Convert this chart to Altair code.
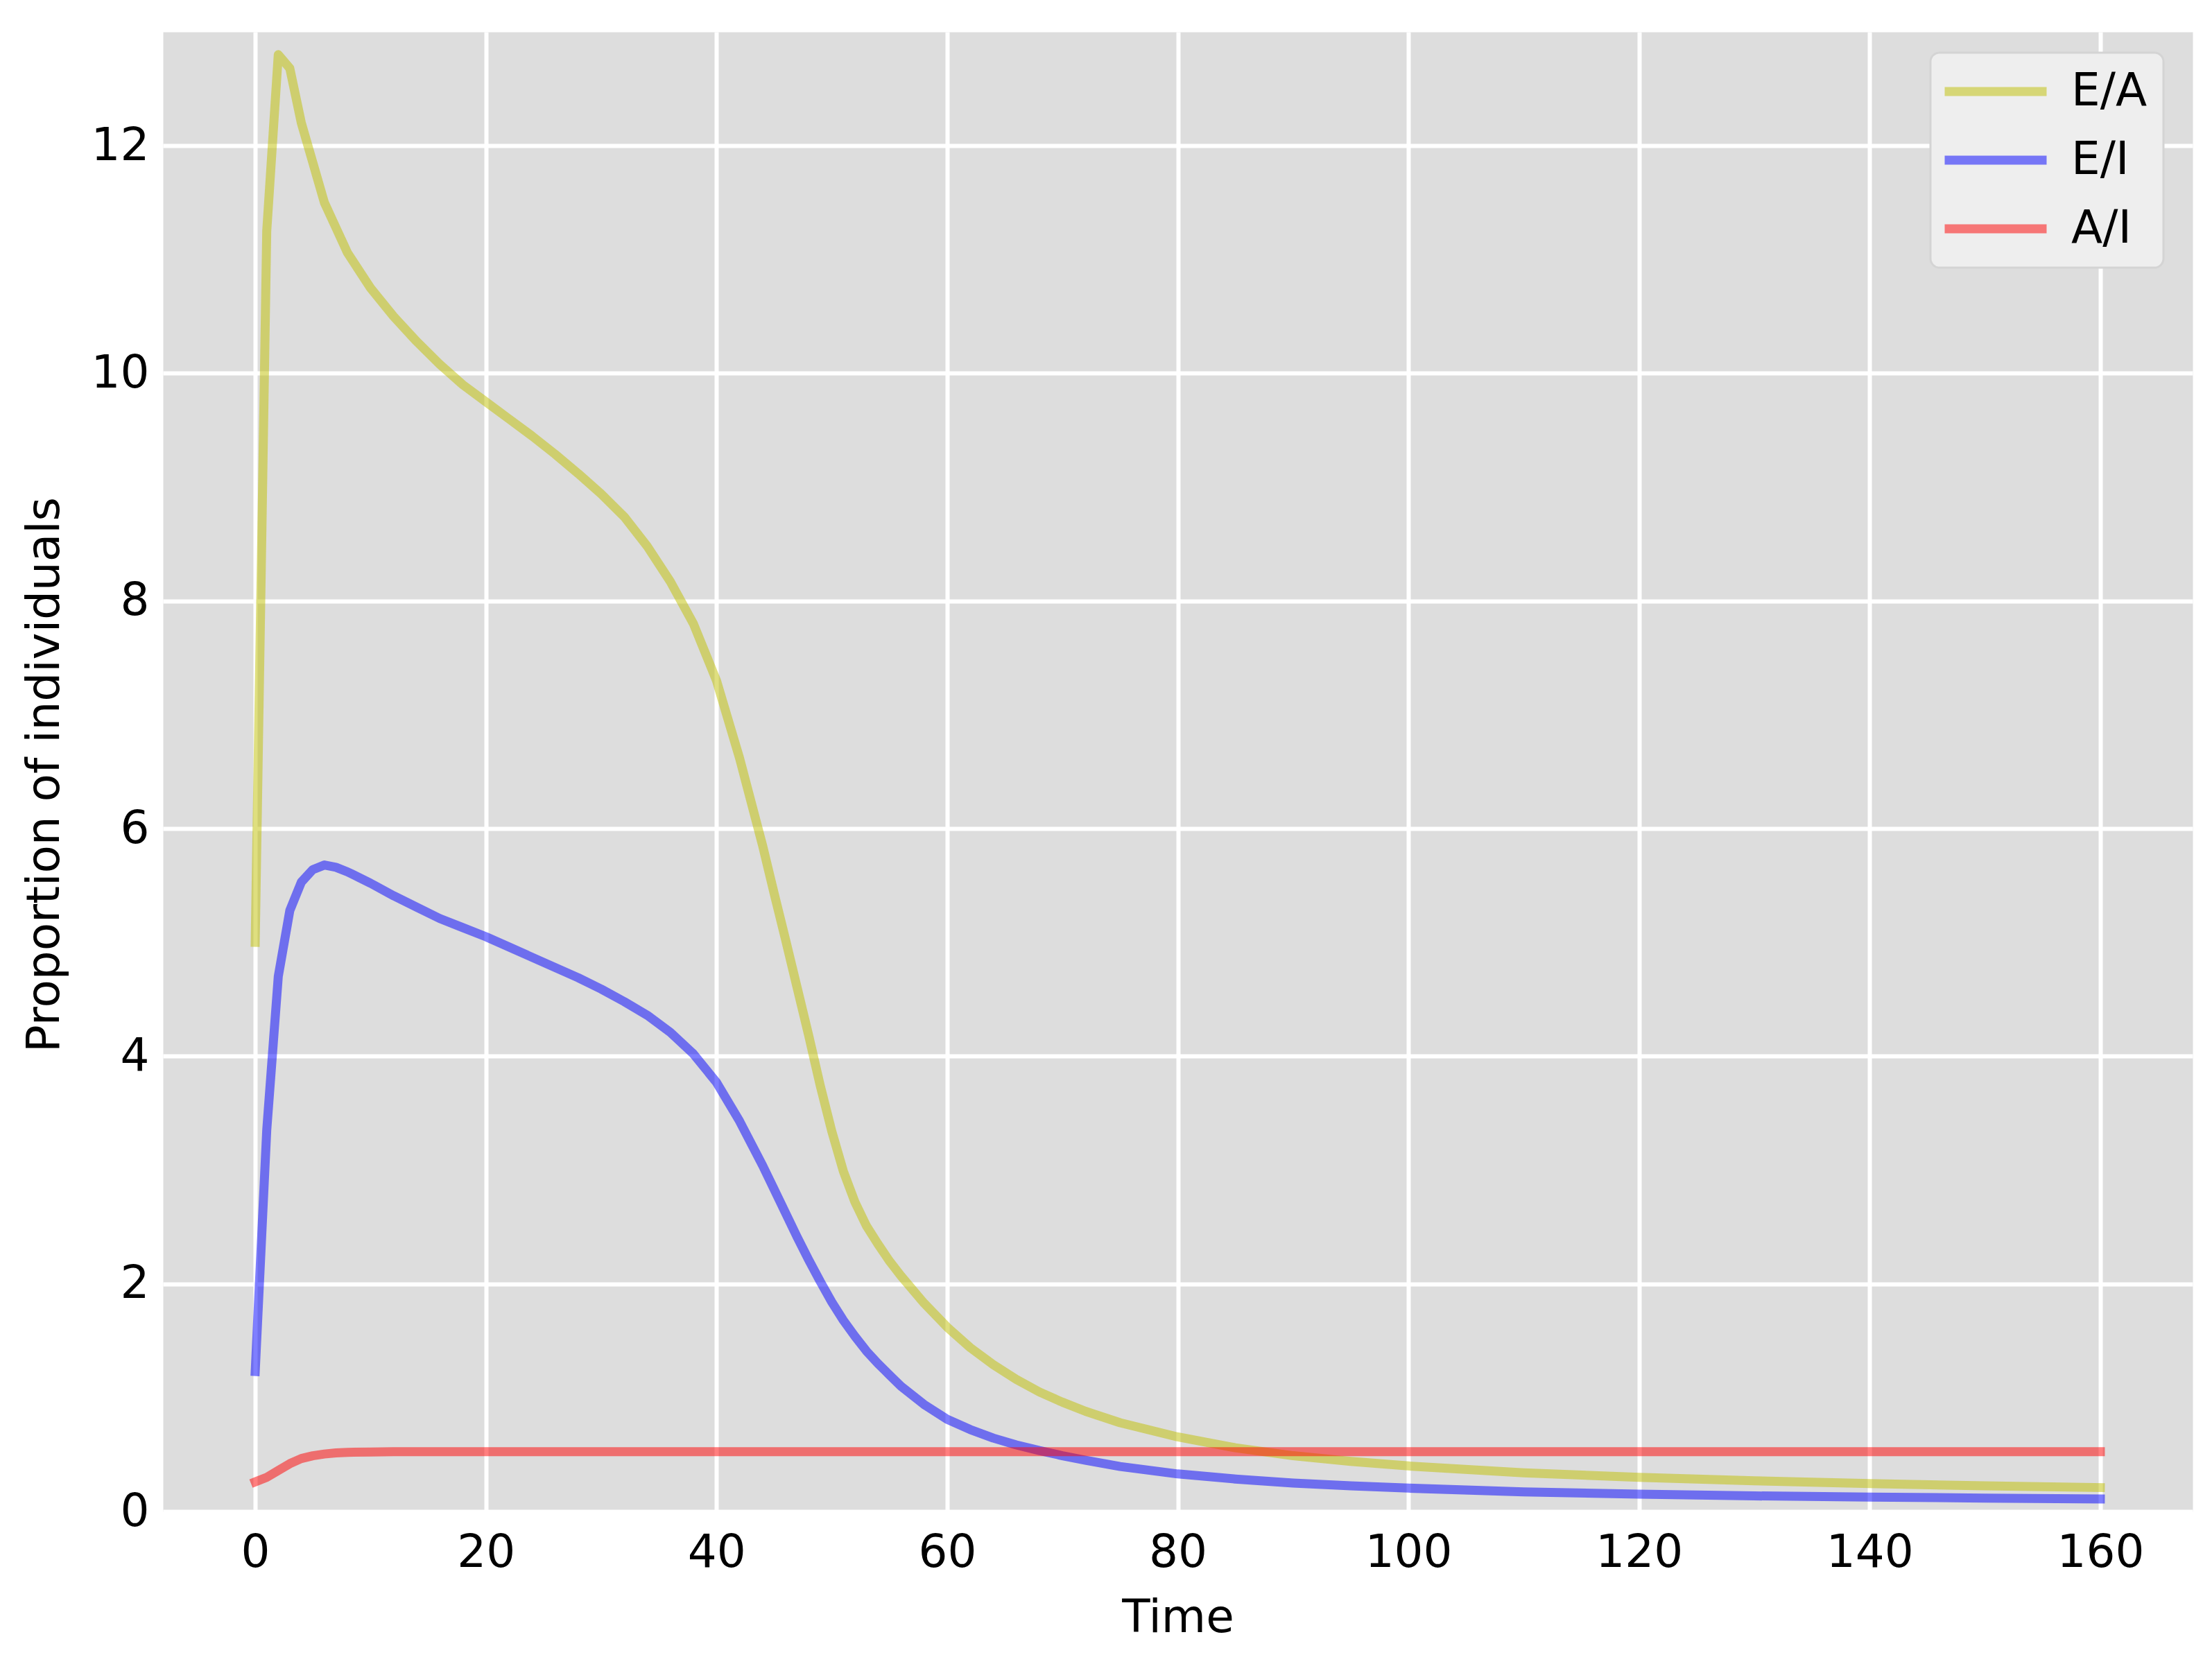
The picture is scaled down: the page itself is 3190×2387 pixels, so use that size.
import altair as alt
import pandas as pd

# ---- data ----
time = [0, 1, 2, 3, 4, 5, 6, 7, 8,
        10, 12, 14, 16, 18, 20, 22, 24, 26, 28, 30, 32, 34, 36, 38, 40,
        42, 44, 45, 46, 47, 48, 49, 50, 51, 52, 53, 54, 55, 56, 58, 60,
        62, 64, 66, 68, 70, 72,
        75, 80, 85, 90, 95, 100,
        110, 120, 130, 140, 150, 160]

ea = [5.0, 11.25, 12.8, 12.68, 12.2, 11.85, 11.5, 11.28, 11.06,
      10.75, 10.5, 10.28, 10.08, 9.9, 9.75, 9.6, 9.45, 9.29, 9.12, 8.94, 8.74, 8.48, 8.17, 7.8, 7.3,
      6.62, 5.85, 5.43, 5.02, 4.6, 4.18, 3.74, 3.34, 2.99, 2.72, 2.51, 2.35, 2.2, 2.07, 1.83, 1.62,
      1.44, 1.29, 1.16, 1.05, 0.96, 0.88,
      0.78, 0.655, 0.56, 0.49, 0.44, 0.40,
      0.34, 0.30, 0.27, 0.245, 0.225, 0.21]

ei = [1.23, 3.35, 4.7, 5.28, 5.53, 5.64, 5.68, 5.66, 5.62,
      5.52, 5.41, 5.31, 5.21, 5.13, 5.05, 4.96, 4.87, 4.78, 4.69, 4.59, 4.48, 4.36, 4.21, 4.02, 3.77,
      3.43, 3.04, 2.83, 2.62, 2.41, 2.21, 2.02, 1.84, 1.68, 1.54, 1.41, 1.3, 1.2, 1.1, 0.94, 0.81,
      0.72, 0.645, 0.585, 0.535, 0.49, 0.45,
      0.395, 0.33, 0.285, 0.25, 0.225, 0.205,
      0.172, 0.152, 0.137, 0.127, 0.118, 0.11]

ai = [0.26, 0.30, 0.36, 0.42, 0.465, 0.49, 0.505, 0.515, 0.52,
      0.523, 0.525, 0.525, 0.525, 0.525, 0.525, 0.525, 0.525, 0.525, 0.525, 0.525, 0.525, 0.525, 0.525, 0.525, 0.525,
      0.525, 0.525, 0.525, 0.525, 0.525, 0.525, 0.525, 0.525, 0.525, 0.525, 0.525, 0.525, 0.525, 0.525, 0.525, 0.525,
      0.525, 0.525, 0.525, 0.525, 0.525, 0.525,
      0.525, 0.525, 0.525, 0.525, 0.525, 0.525,
      0.525, 0.525, 0.525, 0.525, 0.525, 0.525]

series_names = ["E/A", "E/I", "A/I"]
series_colors = ["#BFBF00", "#0000FF", "#FF0000"]
x_ticks = [0, 20, 40, 60, 80, 100, 120, 140, 160]
y_ticks = [0, 2, 4, 6, 8, 10, 12]

rows = []
for name, vals in zip(series_names, [ea, ei, ai]):
    for t, v in zip(time, vals):
        rows.append({"Time": t, "value": v, "series": name})
df = pd.DataFrame(rows)

FONT = "DejaVu Sans"
FS = 66

chart = alt.Chart(df).mark_line(
    strokeWidth=13, opacity=0.5, strokeCap="square", strokeJoin="round", clip=True
).encode(
    x=alt.X("Time:Q",
            scale=alt.Scale(domain=[-8, 168], nice=False, zero=False),
            axis=alt.Axis(values=x_ticks, title="Time", grid=True, gridColor="white",
                          gridWidth=6, domain=False, ticks=False, tickSize=0,
                          labelFont=FONT, labelFontSize=FS, labelColor="black",
                          labelPadding=27, labelFlush=False, labelOverlap=False,
                          titleFont=FONT, titleFontSize=FS, titleFontWeight="normal",
                          titleColor="black", titleY=173, titleBaseline="alphabetic")),
    y=alt.Y("value:Q",
            scale=alt.Scale(domain=[0, 13], nice=False),
            axis=alt.Axis(values=y_ticks, title="Proportion of individuals", grid=True,
                          gridColor="white", gridWidth=6, domain=False, ticks=False,
                          tickSize=0, labelFont=FONT, labelFontSize=FS, labelColor="black",
                          labelPadding=20, labelFlush=False, labelOverlap=False,
                          titleFont=FONT, titleFontSize=FS, titleFontWeight="normal",
                          titleColor="black", titleX=-151, titleY=1071,
                          titleBaseline="alphabetic", titleAngle=270)),
    color=alt.Color("series:N",
                    scale=alt.Scale(domain=series_names, range=series_colors),
                    sort=series_names,
                    legend=alt.Legend(title=None, orient="none", legendX=2549, legendY=30,
                                      direction="vertical", fillColor="#EEEEEE",
                                      strokeColor="#D4D4D4", cornerRadius=13, padding=23,
                                      symbolType="M-3,0L3,0", symbolSize=2401,
                                      symbolStrokeWidth=13, symbolOpacity=0.5,
                                      symbolOffset=38, labelFont=FONT, labelFontSize=FS,
                                      labelColor="black", labelOffset=76, rowPadding=33,
                                      labelLimit=0)),
).properties(
    width=2927, height=2134,
    padding={"left": 227, "top": 38, "right": 19, "bottom": 198},
    autosize=alt.AutoSizeParams(type="none"),
    background="white",
).configure_view(
    fill="#DDDDDD", stroke="transparent"
).configure_legend(
    strokeWidth=3
)

chart.save("out.html", embed_options={"renderer": "svg", "actions": False})
